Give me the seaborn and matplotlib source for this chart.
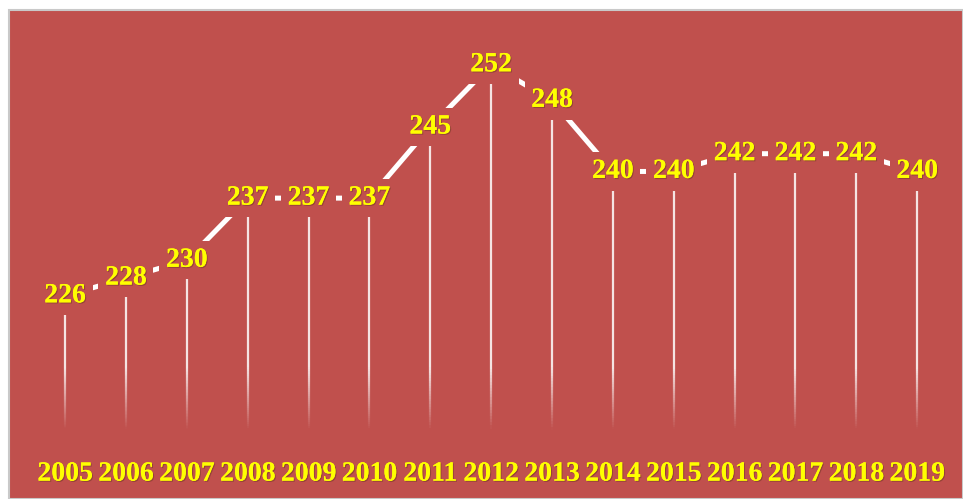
import numpy as np
import pandas as pd
import matplotlib
matplotlib.use("Agg")
import matplotlib.pyplot as plt
import seaborn as sns
from matplotlib.patches import Rectangle
from matplotlib.collections import LineCollection
import matplotlib.patheffects as pe

years = ["2005", "2006", "2007", "2008", "2009", "2010", "2011", "2012",
         "2013", "2014", "2015", "2016", "2017", "2018", "2019"]
values = [226, 228, 230, 237, 237, 237, 245, 252, 248, 240, 240, 242, 242, 242, 240]

RED = "#C0504D"
YELLOW = "#FFFF00"
FONT = "Liberation Serif"

sns.set_theme(style="white")
plt.rcParams["font.family"] = [FONT, "DejaVu Serif"]

df = pd.DataFrame({"pos": np.arange(len(years)), "year": years, "value": values})

fig = plt.figure(figsize=(9.63, 4.99), dpi=100)
fig.patch.set_facecolor("white")
fig.add_artist(Rectangle((9 / 963, 0), (963 - 9) / 963, (499 - 10) / 499,
                         transform=fig.transFigure, facecolor=RED,
                         edgecolor="#C9C9C9", linewidth=1.5, zorder=0))

ax = fig.add_axes([34.6 / 963, 0.1222, 913 / 963, 0.9591 - 0.1222])
ax.set_facecolor("none")
ymin, ymax = 210, 257
ax.set_xlim(-0.5, len(years) - 0.5)
ax.set_ylim(ymin, ymax)

# drop lines with fading gradient toward the bottom
segs, cols = [], []
for x, v in zip(df["pos"], df["value"]):
    ys = np.linspace(ymin, v, 120)
    for a, b in zip(ys[:-1], ys[1:]):
        segs.append([(x, a), (x, b)])
        m = (a + b) / 2
        alpha = np.clip((m - 211.0) / 7.0, 0, 1) * 0.85
        cols.append((1, 1, 1, alpha))
ax.add_collection(LineCollection(segs, colors=cols, linewidths=1.6, zorder=1))

sns.lineplot(data=df, x="pos", y="value", ax=ax, color="white",
             linewidth=3.6, zorder=2, legend=False)

shadow = [pe.withSimplePatchShadow(offset=(0.8, -0.8), shadow_rgbFace="#7a3a2a", alpha=0.6), pe.Normal()]
for x, v in zip(df["pos"], df["value"]):
    ax.text(x, v, str(v), ha="center", va="center", fontsize=20,
            fontweight="bold", color=YELLOW, zorder=3, path_effects=shadow,
            bbox=dict(boxstyle="square,pad=0.24", facecolor=RED, edgecolor="none"))

ax.set_xticks(df["pos"])
ax.set_xticklabels(years)
ax.tick_params(axis="x", length=0, pad=17, labelsize=20, labelcolor=YELLOW)
for lab in ax.get_xticklabels():
    lab.set_fontweight("bold")
    lab.set_path_effects(shadow)
ax.set_yticks([])
ax.set_xlabel("")
ax.set_ylabel("")
for s in ax.spines.values():
    s.set_visible(False)

fig.savefig("out.png", dpi=100, facecolor=fig.get_facecolor())
